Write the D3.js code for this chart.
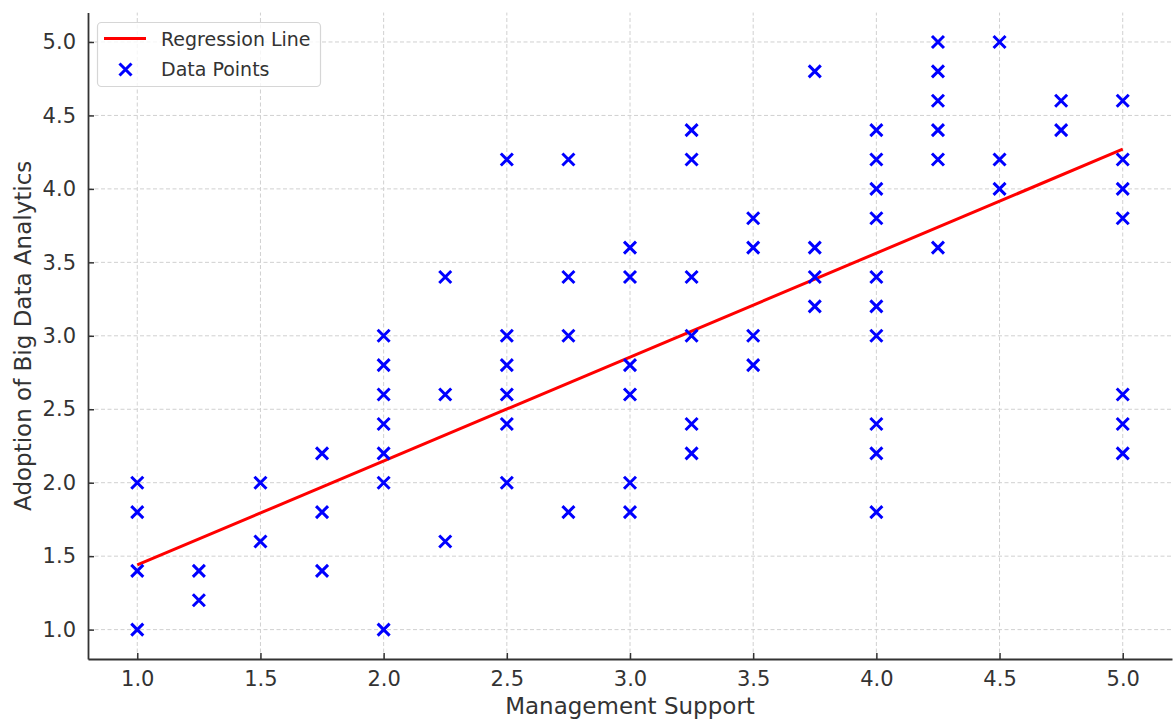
<!DOCTYPE html>
<html>
<head>
<meta charset="utf-8">
<script src="https://cdn.jsdelivr.net/npm/d3@7"></script>
<style>
    body { margin: 0; background: #fff; }
    svg { font-family: "DejaVu Sans", sans-serif; }
</style>
</head>
<body>
<div id="chart"></div>
<script>
// scatter points, one column per management support level
const supportLevels = [1.0, 1.25, 1.5, 1.75, 2.0, 2.25, 2.5, 2.75, 3.0, 3.25, 3.5, 3.75, 4.0, 4.25, 4.5, 4.75, 5.0]
const adoptionValues = [
    [2.0, 1.8, 1.4, 1.0],
    [1.4, 1.2],
    [2.0, 1.6],
    [2.2, 1.8, 1.4],
    [3.0, 2.8, 2.6, 2.4, 2.2, 2.0, 1.0],
    [3.4, 2.6, 1.6],
    [4.2, 3.0, 2.8, 2.6, 2.4, 2.0],
    [4.2, 3.4, 3.0, 1.8],
    [3.6, 3.4, 2.8, 2.6, 2.0, 1.8],
    [4.4, 4.2, 3.4, 3.0, 2.4, 2.2],
    [3.8, 3.6, 3.0, 2.8],
    [4.8, 3.6, 3.4, 3.2],
    [4.4, 4.2, 4.0, 3.8, 3.4, 3.2, 3.0, 2.4, 2.2, 1.8],
    [5.0, 4.8, 4.6, 4.4, 4.2, 3.6],
    [5.0, 4.2, 4.0],
    [4.6, 4.4],
    [4.6, 4.2, 4.0, 3.8, 2.6, 2.4, 2.2]
]
// fitted line
const regressionX = [1.0, 5.0]
const regressionY = [1.44, 4.27]

const xTicks = [1.0, 1.5, 2.0, 2.5, 3.0, 3.5, 4.0, 4.5, 5.0]
const yTicks = [1.0, 1.5, 2.0, 2.5, 3.0, 3.5, 4.0, 4.5, 5.0]
const xLabel = "Management Support"
const yLabel = "Adoption of Big Data Analytics"
const legendLabels = ["Regression Line", "Data Points"]

const points = []
supportLevels.forEach((x, i) => adoptionValues[i].forEach(y => points.push({x: x, y: y})))
const regression = regressionX.map((x, i) => ({x: x, y: regressionY[i]}))

const W = 1175, H = 720
const margin = {top: 12.6, right: 3, bottom: 61, left: 88}
const textColor = "#333"

const svg = d3.select("#chart").append("svg")
    .attr("width", W)
    .attr("height", H)

const xScale = d3.scaleLinear()
    .domain([0.8, 5.2])
    .range([margin.left, W - margin.right])
const yScale = d3.scaleLinear()
    .domain([0.8, 5.2])
    .range([H - margin.bottom, margin.top])

// grid
const grid = svg.append("g")
    .attr("stroke", "#d0d0d0")
    .attr("stroke-width", 1)
    .attr("stroke-dasharray", "4,2.5")
grid.selectAll(".gx").data(xTicks).join("line")
    .attr("x1", d => xScale(d)).attr("x2", d => xScale(d))
    .attr("y1", yScale.range()[0]).attr("y2", yScale.range()[1])
grid.selectAll(".gy").data(yTicks).join("line")
    .attr("x1", xScale.range()[0]).attr("x2", xScale.range()[1])
    .attr("y1", d => yScale(d)).attr("y2", d => yScale(d))

// axes, ticks pointing inwards
const xAxis = d3.axisBottom(xScale)
    .tickValues(xTicks)
    .tickFormat(d3.format(".1f"))
    .tickSizeInner(-6)
    .tickSizeOuter(0)
    .tickPadding(12)
const yAxis = d3.axisLeft(yScale)
    .tickValues(yTicks)
    .tickFormat(d3.format(".1f"))
    .tickSizeInner(-6)
    .tickSizeOuter(0)
    .tickPadding(12)

const gx = svg.append("g")
    .attr("transform", `translate(0,${H - margin.bottom})`)
    .call(xAxis)
const gy = svg.append("g")
    .attr("transform", `translate(${margin.left},0)`)
    .call(yAxis)

;[gx, gy].forEach(g => {
    g.select(".domain").attr("stroke", textColor).attr("stroke-width", 1.8)
    g.selectAll(".tick line").attr("stroke", textColor).attr("stroke-width", 1.5)
    g.selectAll(".tick text")
        .attr("fill", textColor)
        .style("font-family", "DejaVu Sans")
        .style("font-size", "21px")
})

// axis titles
svg.append("text")
    .attr("x", (xScale.range()[0] + xScale.range()[1]) / 2)
    .attr("y", 714)
    .attr("text-anchor", "middle")
    .attr("fill", textColor)
    .style("font-size", "23px")
    .text(xLabel)
svg.append("text")
    .attr("transform", `translate(31,${(yScale.range()[0] + yScale.range()[1]) / 2}) rotate(-90)`)
    .attr("text-anchor", "middle")
    .attr("fill", textColor)
    .style("font-size", "23px")
    .text(yLabel)

// regression line
const line = d3.line()
    .x(d => xScale(d.x))
    .y(d => yScale(d.y))
svg.append("path")
    .datum(regression)
    .attr("fill", "none")
    .attr("stroke", "#ff0000")
    .attr("stroke-width", 3)
    .attr("d", line)

// x markers
const cross = (cx, cy, r) => `M${cx - r},${cy - r}L${cx + r},${cy + r}M${cx - r},${cy + r}L${cx + r},${cy - r}`
svg.append("g")
    .selectAll("path")
    .data(points)
    .join("path")
    .attr("d", d => cross(xScale(d.x), yScale(d.y), 6))
    .attr("stroke", "#0000ff")
    .attr("stroke-width", 3)
    .attr("fill", "none")

// legend
const legend = svg.append("g")
legend.append("rect")
    .attr("x", 97.5).attr("y", 22.5)
    .attr("width", 223).attr("height", 64)
    .attr("rx", 4)
    .attr("fill", "#fff").attr("fill-opacity", 0.8)
    .attr("stroke", "#d6d6d6").attr("stroke-width", 1.2)
legend.append("line")
    .attr("x1", 104).attr("x2", 146)
    .attr("y1", 38.5).attr("y2", 38.5)
    .attr("stroke", "#ff0000").attr("stroke-width", 3)
legend.append("path")
    .attr("d", cross(125.5, 69.5, 6))
    .attr("stroke", "#0000ff").attr("stroke-width", 3)
legend.selectAll("text")
    .data(legendLabels)
    .join("text")
    .attr("x", 161)
    .attr("y", (d, i) => 39 + i * 30)
    .attr("dy", "0.35em")
    .attr("fill", textColor)
    .style("font-size", "19px")
    .text(d => d)
</script>
</body>
</html>
